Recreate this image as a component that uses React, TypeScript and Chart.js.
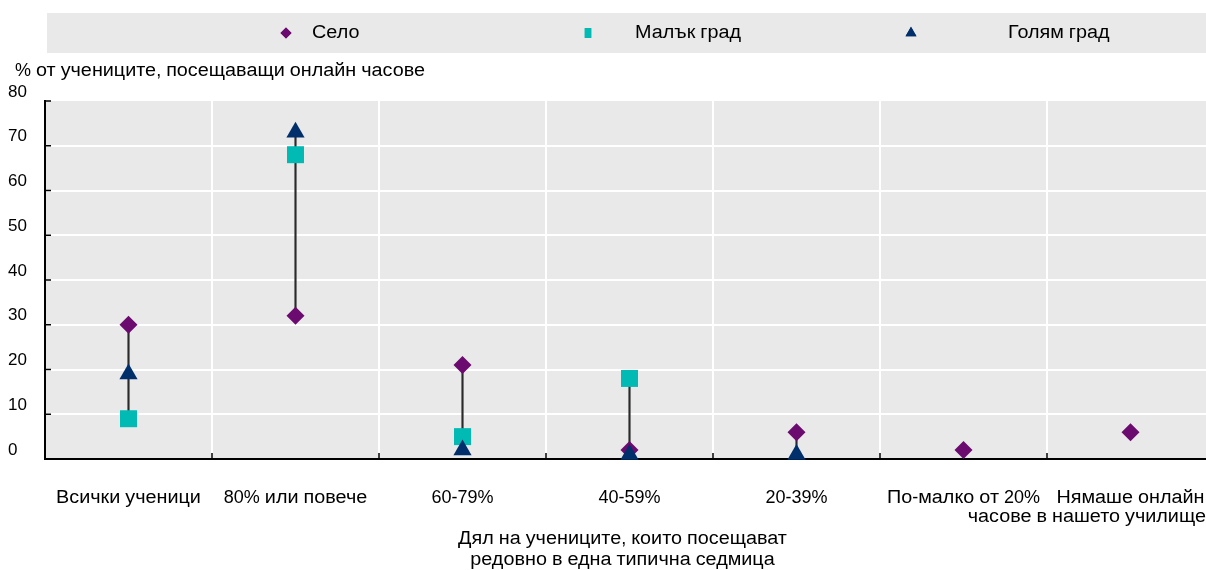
import React, { useEffect, useRef } from 'react';
import { Chart, registerables } from 'chart.js';
import { drawPointLegend } from 'chart.js/helpers';

Chart.register(...registerables);

// ---- Data ----
const categories: string[][] = [
  ['Всички ученици'],
  ['80% или повече'],
  ['60-79%'],
  ['40-59%'],
  ['20-39%'],
  ['По-малко от 20%'],
  ['Нямаше онлайн', 'часове в нашето училище'],
];
const seriesNames = ['Село', 'Малък град', 'Голям град'];
const selo: (number | null)[] = [30, 32, 21, 2, 6, 2, 6];
const malakGrad: (number | null)[] = [9, 68, 5, 18, null, null, null];
const golyamGrad: (number | null)[] = [19, 73, 2, 1, 1, null, null];
const yMin = 0;
const yMax = 80;
const yStep = 10;
const yTitle = '% от учениците, посещаващи онлайн часове';
const xTitle = ['Дял на учениците, които посещават', 'редовно в една типична седмица'];

// ---- Styles ----
const colors = ['#6B0A6F', '#00BAB3', '#002F6C'];
const pointStyles = ['rectRot', 'rect', 'triangle'];
const pointRadii = [9, 12, 10.5];
const FONT = "'Liberation Sans', Arial, sans-serif";
const TEXT_FONT = `18px ${FONT}`;
const CYR_STRETCH = 1.1;
const GREY = '#E9E9E9';
const VIEW_W = 1206;

const allSeries = [selo, malakGrad, golyamGrad];
const ranges = categories.map((_, i) => {
  const vals = allSeries.map((s) => s[i]).filter((v): v is number => v !== null);
  return vals.length > 1 ? [Math.min(...vals), Math.max(...vals)] : null;
});

const CYR = /[\u0400-\u04FF]/;
function textRuns(ctx: CanvasRenderingContext2D, text: string) {
  const runs = text.match(/[\u0400-\u04FF]+|[^\u0400-\u04FF]+/g) || [];
  return runs.map((r) => {
    const cyr = CYR.test(r);
    return { r, cyr, w: ctx.measureText(r).width * (cyr ? CYR_STRETCH : 1) };
  });
}
function measure(ctx: CanvasRenderingContext2D, text: string) {
  return textRuns(ctx, text).reduce((a, b) => a + b.w, 0);
}
function drawText(ctx: CanvasRenderingContext2D, text: string, x: number, y: number, align: 'left' | 'center') {
  const runs = textRuns(ctx, text);
  const total = runs.reduce((a, b) => a + b.w, 0);
  let cx = align === 'center' ? x - total / 2 : x;
  ctx.textAlign = 'left';
  ctx.textBaseline = 'middle';
  runs.forEach((run) => {
    ctx.save();
    ctx.translate(cx, y);
    if (run.cyr) ctx.scale(CYR_STRETCH, 1);
    ctx.fillText(run.r, 0, 0);
    ctx.restore();
    cx += run.w;
  });
}

const decorPlugin = {
  id: 'decor',
  beforeDraw(chart: any) {
    const { ctx, chartArea } = chart;
    ctx.save();
    ctx.fillStyle = GREY;
    ctx.fillRect(chartArea.left, chartArea.top, chartArea.right - chartArea.left, chartArea.bottom - chartArea.top);
    // legend band
    ctx.fillRect(47, 13, VIEW_W - 47, 40);
    ctx.restore();
  },
  afterDraw(chart: any) {
    const { ctx, chartArea, scales } = chart;
    const xs = scales.x;
    const ys = scales.y;
    ctx.save();
    // inner ticks
    ctx.strokeStyle = '#000';
    ctx.lineWidth = 1.5;
    ys.ticks.forEach((t: any) => {
      const y = ys.getPixelForValue(t.value);
      ctx.beginPath();
      ctx.moveTo(chartArea.left, y);
      ctx.lineTo(chartArea.left + 6, y);
      ctx.stroke();
    });
    for (let i = 0; i < categories.length - 1; i++) {
      const x = (xs.getPixelForValue(i) + xs.getPixelForValue(i + 1)) / 2;
      ctx.beginPath();
      ctx.moveTo(x, chartArea.bottom);
      ctx.lineTo(x, chartArea.bottom - 6);
      ctx.stroke();
    }
    // legend
    const markerX = [286, 588, 911];
    const textX = [312, 635, 1008];
    const legendR = [5.5, 7, 6.3];
    const ly = 33;
    ctx.font = TEXT_FONT;
    seriesNames.forEach((name, i) => {
      ctx.fillStyle = colors[i];
      ctx.strokeStyle = colors[i];
      drawPointLegend(
        ctx,
        { pointStyle: pointStyles[i], radius: legendR[i], rotation: 0, borderWidth: 0 } as any,
        markerX[i],
        ly,
        i === 1 ? 6.5 : undefined
      );
      ctx.fill();
      ctx.fillStyle = '#000';
      drawText(ctx, name, textX[i], ly, 'left');
    });
    // y title
    ctx.fillStyle = '#000';
    drawText(ctx, yTitle, 15, 71, 'left');
    // x labels (each line centred on its category, kept inside the view)
    categories.forEach((lines, i) => {
      const cx = xs.getPixelForValue(i);
      lines.forEach((l, k) => {
        const w = measure(ctx, l);
        let x = cx;
        if (x + w / 2 > VIEW_W) x = VIEW_W - w / 2;
        drawText(ctx, l, x, 498 + k * 19, 'center');
      });
    });
    // x title
    const tx = (chartArea.left + VIEW_W) / 2;
    xTitle.forEach((l, k) => drawText(ctx, l, tx - 3, 539 + k * 21, 'center'));
    ctx.restore();
  },
};

export default function App() {
  const ref = useRef<HTMLCanvasElement>(null);
  useEffect(() => {
    if (!ref.current) return;
    const chart = new Chart(ref.current, {
      type: 'bar',
      data: {
        labels: categories.map((c) => c.join(' ')),
        datasets: [
          {
            type: 'bar',
            label: 'range',
            data: ranges as any,
            backgroundColor: '#2A2A2A',
            borderWidth: 0,
            barThickness: 1.5,
            order: 10,
          } as any,
          ...allSeries.map((s, i) => ({
            type: 'line',
            label: seriesNames[i],
            data: s,
            showLine: false,
            pointStyle: pointStyles[i],
            pointRadius: pointRadii[i],
            pointHoverRadius: pointRadii[i],
            pointBackgroundColor: colors[i],
            pointBorderColor: colors[i],
            pointBorderWidth: 0,
            backgroundColor: colors[i],
            borderColor: colors[i],
            order: 3 - i,
            clip: false,
          })),
        ],
      },
      options: {
        animation: false,
        responsive: false,
        devicePixelRatio: 1,
        events: [],
        layout: { autoPadding: false, padding: { left: 8, top: 101, right: 0, bottom: 111 } },
        plugins: { legend: { display: false }, tooltip: { enabled: false } },
        font: { family: FONT, size: 17 },
        scales: {
          x: {
            offset: true,
            afterFit: (s: any) => {
              s.height = 0;
            },
            grid: { offset: true, color: '#FFFFFF', lineWidth: 2, drawTicks: false },
            border: { display: true, color: '#000000', width: 2 },
            ticks: { display: false },
          },
          y: {
            min: yMin,
            max: yMax,
            afterFit: (s: any) => {
              s.width = 37;
            },
            grid: {
              color: (c: any) => (c.tick && c.tick.value === yMax ? 'rgba(0,0,0,0)' : '#FFFFFF'),
              lineWidth: 2,
              drawTicks: false,
            },
            border: { display: true, color: '#000000', width: 2 },
            ticks: {
              stepSize: yStep,
              crossAlign: 'far',
              labelOffset: -9,
              color: '#000',
              font: { family: FONT, size: 17 },
            },
          },
        },
      } as any,
      plugins: [decorPlugin],
    });
    return () => chart.destroy();
  }, []);
  return (
    <div style={{ position: 'absolute', left: 0, top: 0, width: VIEW_W, height: 570, overflow: 'hidden', background: '#fff' }}>
      <canvas ref={ref} width={1214} height={570} style={{ display: 'block' }} />
    </div>
  );
}
